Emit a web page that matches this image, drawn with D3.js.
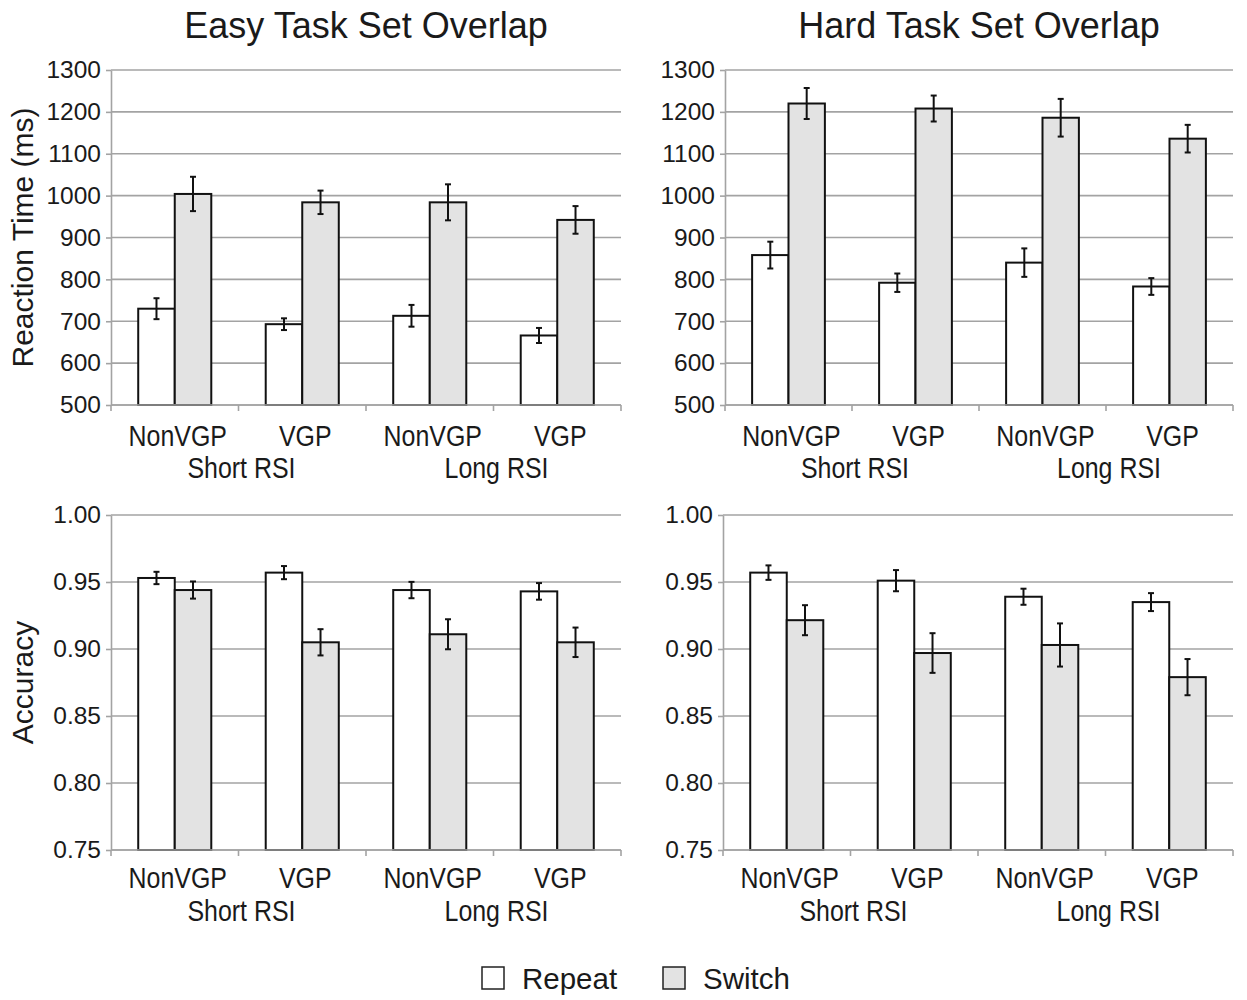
<!DOCTYPE html>
<html><head><meta charset="utf-8">
<script src="https://cdn.jsdelivr.net/npm/d3@7"></script>
<style>
body{margin:0;background:#fff}
svg{display:block}
text{font-family:"Liberation Sans",Arial,Helvetica,sans-serif;fill:#1a1a1a}
</style>
</head><body>
<svg id="c" width="1247" height="1000"></svg>
<script>
// ---------- data ----------
const categories = ["NonVGP", "VGP", "NonVGP", "VGP"];
const rsiGroups = ["Short RSI", "Long RSI"];
const series = ["Repeat", "Switch"];
const panelTitles = ["Easy Task Set Overlap", "Hard Task Set Overlap"];
const yLabels = ["Reaction Time (ms)", "Accuracy"];
const rtTicks = [500, 600, 700, 800, 900, 1000, 1100, 1200, 1300];
const accTicks = [0.75, 0.80, 0.85, 0.90, 0.95, 1.00];

const easyRTRepeat = [730, 693, 713, 666];
const easyRTRepeatErr = [25, 14, 26, 18];
const easyRTSwitch = [1004, 984, 984, 942];
const easyRTSwitchErr = [41, 28, 43, 33];

const hardRTRepeat = [858, 792, 840, 783];
const hardRTRepeatErr = [32, 22, 34, 20];
const hardRTSwitch = [1220, 1208, 1186, 1136];
const hardRTSwitchErr = [37, 31, 45, 33];

const easyAccRepeat = [0.953, 0.957, 0.944, 0.943];
const easyAccRepeatErr = [0.0046, 0.0049, 0.0061, 0.0062];
const easyAccSwitch = [0.944, 0.905, 0.911, 0.905];
const easyAccSwitchErr = [0.0064, 0.0098, 0.0112, 0.011];

const hardAccRepeat = [0.957, 0.951, 0.939, 0.935];
const hardAccRepeatErr = [0.0054, 0.0079, 0.006, 0.0067];
const hardAccSwitch = [0.9215, 0.897, 0.903, 0.879];
const hardAccSwitchErr = [0.0112, 0.0148, 0.0161, 0.0135];

// ---------- drawing ----------
const svg = d3.select("#c");
const fills = {Repeat: "#ffffff", Switch: "#e3e3e3"};
const gridColor = "#a3a3a3";

function drawPanel(cfg) {
  const y = d3.scaleLinear().domain([cfg.ticks[0], cfg.ticks[cfg.ticks.length - 1]]).range([cfg.y1, cfg.y0]);
  const x = d3.scaleBand().domain(d3.range(categories.length))
    .range([cfg.x0, cfg.x1]).paddingInner(0.427).paddingOuter(0.2135);
  const xs = d3.scaleBand().domain(series).range([0, x.bandwidth()]);
  const g = svg.append("g");

  // gridlines
  g.append("g").selectAll("line").data(cfg.ticks).join("line")
    .attr("x1", cfg.x0).attr("x2", cfg.x1)
    .attr("y1", d => y(d)).attr("y2", d => y(d))
    .attr("stroke", gridColor).attr("stroke-width", 1.6);

  // bars
  const rows = [];
  categories.forEach((c, i) => {
    rows.push({i, s: "Repeat", v: cfg.rep[i], e: cfg.repErr[i]});
    rows.push({i, s: "Switch", v: cfg.sw[i], e: cfg.swErr[i]});
  });
  g.append("g").selectAll("rect").data(rows).join("rect")
    .attr("x", d => x(d.i) + xs(d.s))
    .attr("y", d => y(d.v))
    .attr("width", xs.bandwidth())
    .attr("height", d => y(cfg.ticks[0]) - y(d.v))
    .attr("fill", d => fills[d.s])
    .attr("stroke", "#111").attr("stroke-width", 2);

  // y axis
  const ax = g.append("g").attr("transform", `translate(${cfg.x0},0)`)
    .call(d3.axisLeft(y).tickValues(cfg.ticks).tickFormat(cfg.fmt).tickSize(5).tickSizeOuter(0).tickPadding(5));
  ax.select(".domain").attr("stroke", gridColor).attr("stroke-width", 1.6);
  ax.selectAll(".tick line").attr("stroke", gridColor).attr("stroke-width", 1.6);
  ax.selectAll(".tick text").attr("font-size", 24.5)
    .attr("font-family", '"Liberation Sans",Arial,sans-serif').attr("fill", "#1a1a1a");

  // x baseline + boundary ticks
  g.append("line").attr("x1", cfg.x0).attr("x2", cfg.x1)
    .attr("y1", cfg.y1).attr("y2", cfg.y1).attr("stroke", gridColor).attr("stroke-width", 1.6);
  g.append("g").selectAll("line").data(d3.range(categories.length + 1)).join("line")
    .attr("x1", d => cfg.x0 + d * x.step()).attr("x2", d => cfg.x0 + d * x.step())
    .attr("y1", cfg.y1).attr("y2", cfg.y1 + 6)
    .attr("stroke", gridColor).attr("stroke-width", 1.6);

  // error bars
  const eb = g.append("g").attr("stroke", "#111").attr("stroke-width", 2);
  rows.forEach(d => {
    const cx = x(d.i) + xs(d.s) + xs.bandwidth() / 2;
    const yt = y(d.v + d.e), yb = y(d.v - d.e);
    eb.append("line").attr("x1", cx).attr("x2", cx).attr("y1", yt).attr("y2", yb);
    eb.append("line").attr("x1", cx - 3).attr("x2", cx + 3).attr("y1", yt).attr("y2", yt);
    eb.append("line").attr("x1", cx - 3).attr("x2", cx + 3).attr("y1", yb).attr("y2", yb);
  });

  // category labels (slightly condensed look)
  g.append("g").selectAll("text").data(categories).join("text")
    .attr("transform", (d, i) => `translate(${x(i) + x.bandwidth() / 2 + 3},${cfg.y1 + cfg.lab1}) scale(0.86,1)`)
    .attr("text-anchor", "middle").attr("dy", "0.35em")
    .attr("font-size", 29).text(d => d);
  g.append("g").selectAll("text").data(rsiGroups).join("text")
    .attr("transform", (d, i) => `translate(${cfg.x0 + (2 * i + 1) * x.step() + 3},${cfg.y1 + cfg.lab2}) scale(0.86,1)`)
    .attr("text-anchor", "middle").attr("dy", "0.35em")
    .attr("font-size", 29).text(d => d);

  if (cfg.title) {
    svg.append("text").attr("x", (cfg.x0 + cfg.x1) / 2).attr("y", 38)
      .attr("text-anchor", "middle").attr("font-size", 36).text(cfg.title);
  }
  if (cfg.ylab) {
    svg.append("text")
      .attr("transform", `translate(22,${(cfg.y0 + cfg.y1) / 2}) rotate(-90)`)
      .attr("text-anchor", "middle").attr("dy", "0.35em")
      .attr("font-size", 30).text(cfg.ylab);
  }
}

const fmtRT = d3.format("d");
const fmtAcc = d3.format(".2f");

drawPanel({x0: 111, x1: 621, y0: 70, y1: 405, ticks: rtTicks, fmt: fmtRT,
  rep: easyRTRepeat, repErr: easyRTRepeatErr, sw: easyRTSwitch, swErr: easyRTSwitchErr,
  lab1: 31, lab2: 63, title: panelTitles[0], ylab: yLabels[0]});
drawPanel({x0: 725, x1: 1233, y0: 70, y1: 405, ticks: rtTicks, fmt: fmtRT,
  rep: hardRTRepeat, repErr: hardRTRepeatErr, sw: hardRTSwitch, swErr: hardRTSwitchErr,
  lab1: 31, lab2: 63, title: panelTitles[1]});
drawPanel({x0: 111, x1: 621, y0: 515, y1: 850, ticks: accTicks, fmt: fmtAcc,
  rep: easyAccRepeat, repErr: easyAccRepeatErr, sw: easyAccSwitch, swErr: easyAccSwitchErr,
  lab1: 28, lab2: 61, ylab: yLabels[1]});
drawPanel({x0: 723, x1: 1233, y0: 515, y1: 850, ticks: accTicks, fmt: fmtAcc,
  rep: hardAccRepeat, repErr: hardAccRepeatErr, sw: hardAccSwitch, swErr: hardAccSwitchErr,
  lab1: 28, lab2: 61});

// legend
const leg = svg.append("g");
const legX = [482, 663];
series.forEach((s, i) => {
  leg.append("rect").attr("x", legX[i]).attr("y", 967).attr("width", 22).attr("height", 22)
    .attr("fill", fills[s]).attr("stroke", "#222").attr("stroke-width", 1.5);
  leg.append("text").attr("x", legX[i] + 40).attr("y", 979).attr("dy", "0.35em")
    .attr("font-size", 29.5).text(s);
});
</script>
</body></html>
